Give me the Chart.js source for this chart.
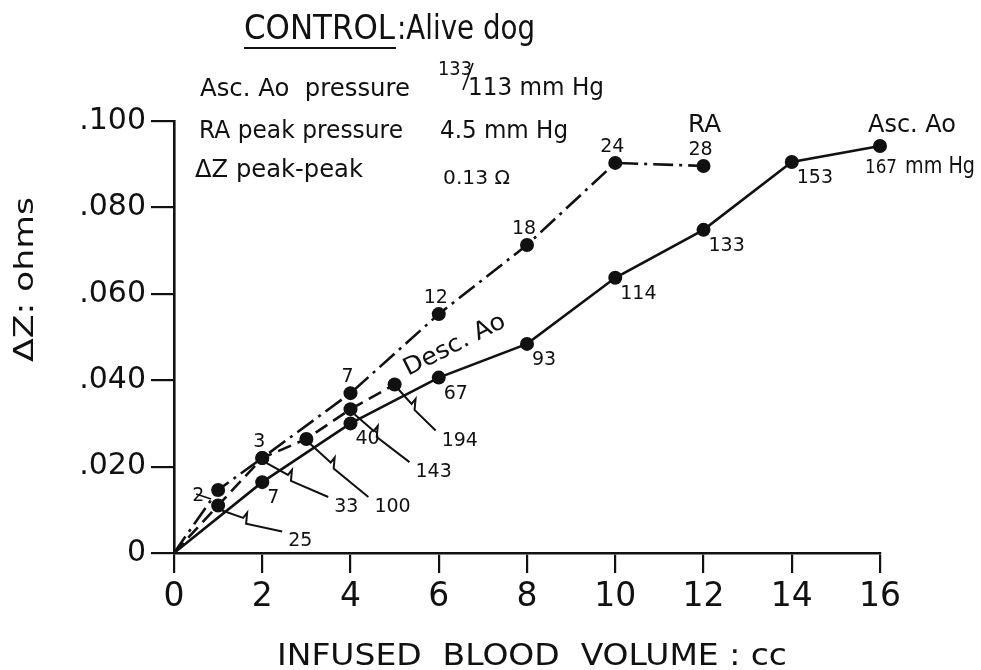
<!DOCTYPE html>
<html>
<head>
<meta charset="utf-8">
<script src="https://cdn.jsdelivr.net/npm/chart.js@4/dist/chart.umd.min.js"></script>
<style>
  html, body { margin: 0; padding: 0; background: #fff; }
  #wrap { width: 981px; height: 670px; }
</style>
</head>
<body>
<div id="wrap"><canvas id="c" width="981" height="670"></canvas></div>
<script>
// ---- data ----
const xTickLabels = ['0','2','4','6','8','10','12','14','16'];
const yTickLabels = ['0','.020','.040','.060','.080','.100'];

// Ascending aorta (solid line)
const ascAoVolume = [0, 2, 4, 6, 8, 10, 12, 14, 16];
const ascAoDeltaZ = [0, 0.0164, 0.0300, 0.0406, 0.0484, 0.0637, 0.0748, 0.0905, 0.0942];
const ascAoPressure = [null, 7, 40, 67, 93, 114, 133, 153, 167];

// Descending aorta (dashed line)
const descAoVolume = [0, 1, 2, 3, 4, 5];
const descAoDeltaZ = [0, 0.0110, 0.0220, 0.0264, 0.0333, 0.0390];
const descAoPressure = [null, 25, 33, 100, 143, 194];

// Right atrium (dash-dot line)
const raVolume = [0, 1, 2, 4, 6, 8, 10, 12];
const raDeltaZ = [0, 0.0146, 0.0220, 0.0370, 0.0553, 0.0713, 0.0903, 0.0896];
const raPressure = [null, 2, 3, 7, 12, 18, 24, 28];

// ---- layout (label placement only) ----
const descLabelOffsets = [null, [70, 27], [72, 40], [68, 59], [65, 54], [47, 47]];

const toXY = (xs, ys) => xs.map((x, i) => ({ x: x, y: ys[i] }));
const FONT = '"DejaVu Sans", "Liberation Sans", sans-serif';

function fitText(ctx, text, x, baseline, width, size, angle) {
  ctx.save();
  ctx.font = size + 'px ' + FONT;
  const w = ctx.measureText(text).width;
  ctx.translate(x, baseline);
  if (angle) ctx.rotate(angle);
  ctx.scale(width / w, 1);
  ctx.textAlign = 'left';
  ctx.textBaseline = 'alphabetic';
  ctx.fillStyle = '#111';
  ctx.fillText(text, 0, 0);
  ctx.restore();
}
function plainText(ctx, text, x, baseline, size, align) {
  ctx.save();
  ctx.font = size + 'px ' + FONT;
  ctx.textAlign = align || 'left';
  ctx.textBaseline = 'alphabetic';
  ctx.fillStyle = '#111';
  ctx.fillText(text, x, baseline);
  ctx.restore();
}

const annotations = {
  id: 'annotations',
  afterDatasetsDraw(chart) {
    const ctx = chart.ctx;
    const xs = chart.scales.x, ys = chart.scales.y;
    const px = v => xs.getPixelForValue(v);
    const py = v => ys.getPixelForValue(v);

    // Header
    fitText(ctx, 'CONTROL', 244, 39, 151, 33);
    fitText(ctx, ':Alive dog', 397, 39, 138, 33);
    ctx.save(); ctx.strokeStyle = '#111'; ctx.lineWidth = 2;
    ctx.beginPath(); ctx.moveTo(244, 48); ctx.lineTo(396, 48); ctx.stroke(); ctx.restore();

    fitText(ctx, 'Asc. Ao  pressure', 200, 96, 210, 25);
    fitText(ctx, '133', 438, 75, 34, 19);
    ctx.save(); ctx.strokeStyle = '#111'; ctx.lineWidth = 1.6;
    ctx.beginPath(); ctx.moveTo(473, 63); ctx.lineTo(463, 90); ctx.stroke(); ctx.restore();
    fitText(ctx, '113 mm Hg', 468, 95, 136, 25);

    fitText(ctx, 'RA peak pressure', 199, 138, 204, 25);
    fitText(ctx, '4.5 mm Hg', 440, 138, 128, 25);
    fitText(ctx, 'ΔZ peak-peak', 195, 177, 168, 25);
    fitText(ctx, '0.13 Ω', 443, 184, 67, 19);

    fitText(ctx, 'RA', 688, 132, 33, 24);
    fitText(ctx, 'Asc. Ao', 868, 132, 88, 24);

    // Desc. Ao rotated label
    fitText(ctx, 'Desc. Ao', 408, 376, 111, 24, -26.8 * Math.PI / 180);

    // Axis titles
    ctx.save();
    ctx.translate(33, 362);
    ctx.rotate(-Math.PI / 2);
    ctx.font = '27px ' + FONT;
    const t = 'ΔZ: ohms';
    const tw = ctx.measureText(t).width;
    ctx.scale(165 / tw, 1);
    ctx.fillStyle = '#111';
    ctx.fillText(t, 0, 0);
    ctx.restore();
    fitText(ctx, 'INFUSED  BLOOD  VOLUME : cc', 277, 665, 510, 31);

    // Asc Ao pressure labels
    ascAoVolume.forEach((v, i) => {
      const p = ascAoPressure[i];
      if (p === null) return;
      const x = px(v), y = py(ascAoDeltaZ[i]);
      if (i === ascAoVolume.length - 1) {
        fitText(ctx, String(p), x - 15, y + 27, 32, 19);
        fitText(ctx, 'mm Hg', x + 25, y + 27, 70, 23);
      } else {
        plainText(ctx, String(p), x + 5, y + 21, 19);
      }
    });

    // RA pressure labels
    raVolume.forEach((v, i) => {
      const p = raPressure[i];
      if (p === null) return;
      const x = px(v), y = py(raDeltaZ[i]);
      if (i === 1) {
        plainText(ctx, String(p), x - 26, y + 11, 19);
        ctx.save(); ctx.strokeStyle = '#111'; ctx.lineWidth = 1.6;
        ctx.beginPath(); ctx.moveTo(x - 22, y + 4); ctx.lineTo(x - 7, y + 9); ctx.stroke(); ctx.restore();
      } else {
        plainText(ctx, String(p), x - 3, y - 11, 19, 'center');
      }
    });

    // Desc Ao pressure labels with callout lines
    descAoVolume.forEach((v, i) => {
      const p = descAoPressure[i];
      if (p === null) return;
      const x = px(v), y = py(descAoDeltaZ[i]);
      const off = descLabelOffsets[i];
      const lx = x + off[0], ly = y + off[1];
      const sx = x + 4, sy = y + 5;
      const ex = lx - 6, ey = ly - 1;
      const mx = sx + (ex - sx) * 0.35, my = sy + (ey - sy) * 0.35;
      ctx.save(); ctx.strokeStyle = '#111'; ctx.lineWidth = 2;
      ctx.beginPath();
      ctx.moveTo(sx, sy);
      ctx.lineTo(mx, my);
      ctx.lineTo(mx + 4, my - 5);
      ctx.lineTo(mx + 3, my + 6);
      ctx.lineTo(ex, ey);
      ctx.stroke(); ctx.restore();
      plainText(ctx, String(p), lx, ly + 14, 19);
    });
  }
};

const pr = ctx => (ctx.dataIndex === 0 ? 0 : 7);

new Chart(document.getElementById('c'), {
  type: 'line',
  data: {
    datasets: [
      {
        label: 'Asc. Ao',
        data: toXY(ascAoVolume, ascAoDeltaZ),
        borderColor: '#111', backgroundColor: '#111', borderWidth: 2.6,
        pointRadius: pr, pointBackgroundColor: '#111', pointBorderWidth: 0,
        tension: 0, fill: false, clip: false
      },
      {
        label: 'Desc. Ao',
        data: toXY(descAoVolume, descAoDeltaZ),
        borderColor: '#111', backgroundColor: '#111', borderWidth: 2.6,
        borderDash: [14, 7],
        pointRadius: pr, pointBackgroundColor: '#111', pointBorderWidth: 0,
        tension: 0, fill: false, clip: false
      },
      {
        label: 'RA',
        data: toXY(raVolume, raDeltaZ),
        borderColor: '#111', backgroundColor: '#111', borderWidth: 2.6,
        borderDash: [20, 6, 3, 6],
        pointRadius: pr, pointBackgroundColor: '#111', pointBorderWidth: 0,
        tension: 0, fill: false, clip: false
      }
    ]
  },
  options: {
    responsive: false,
    animation: false,
    devicePixelRatio: 1,
    layout: { padding: { left: 0, right: 101, top: 121, bottom: 0 } },
    plugins: { legend: { display: false }, tooltip: { enabled: false } },
    scales: {
      x: {
        type: 'linear', min: 0, max: 16,
        afterFit: s => { s.height = 117; },
        ticks: {
          stepSize: 2, color: '#111', padding: 5,
          font: { family: FONT, size: 33 },
          callback: (v) => xTickLabels[Math.round(v / 2)]
        },
        grid: { drawOnChartArea: false, drawTicks: true, tickLength: 20, color: '#111', lineWidth: 2.2 },
        border: { color: '#111', width: 2.6 }
      },
      y: {
        type: 'linear', min: 0, max: 0.1,
        afterFit: s => { s.width = 174; },
        ticks: {
          stepSize: 0.02, color: '#111', padding: 5,
          font: { family: FONT, size: 30 },
          callback: (v) => yTickLabels[Math.round(v / 0.02)]
        },
        grid: { drawOnChartArea: false, drawTicks: true, tickLength: 23, color: '#111', lineWidth: 2.2 },
        border: { color: '#111', width: 2.6 }
      }
    }
  },
  plugins: [annotations]
});
</script>
</body>
</html>
